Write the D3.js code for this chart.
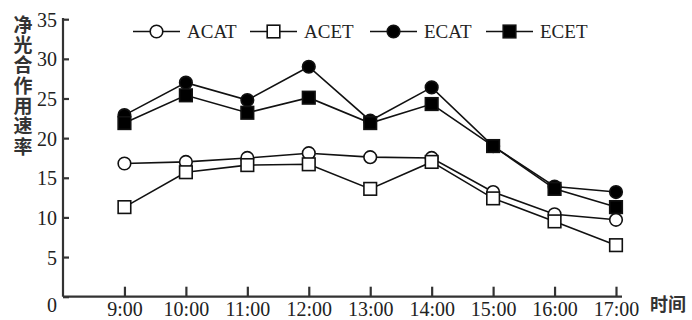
<!DOCTYPE html>
<html>
<head>
	<meta charset="utf-8">
	<title>净光合作用速率</title>
	<script src="https://cdnjs.cloudflare.com/ajax/libs/d3/7.8.5/d3.min.js"></script>
	<style type="text/css">
		body { margin: 0; background: #fff; }
		.axis path, .axis line { stroke: #333; stroke-width: 2.2px; }
		.axis text { font-family: "Liberation Serif", serif; font-size: 20px; fill: #222; }
		.series { fill: none; stroke: #111; stroke-width: 1.6px; }
		.legend text { font-family: "Liberation Serif", serif; font-size: 19px; fill: #222; }
		.cjk { font-family: "Noto Sans CJK SC", sans-serif; font-weight: bold; fill: #333; }
	</style>
</head>
<body>
	<script type="text/javascript">
		// values
		var hours = [9, 10, 11, 12, 13, 14, 15, 16, 17];
		var hourLabels = ["9:00", "10:00", "11:00", "12:00", "13:00", "14:00", "15:00", "16:00", "17:00"];
		var yTicks = [0, 5, 10, 15, 20, 25, 30, 35];
		var acat = [16.8, 17.0, 17.5, 18.1, 17.6, 17.5, 13.2, 10.4, 9.7];
		var acet = [11.3, 15.7, 16.6, 16.7, 13.6, 17.0, 12.4, 9.5, 6.5];
		var ecat = [22.9, 27.0, 24.8, 29.0, 22.2, 26.4, 19.0, 13.9, 13.2];
		var ecet = [21.9, 25.4, 23.2, 25.1, 21.9, 24.3, 19.0, 13.6, 11.3];
		var seriesNames = ["ACAT", "ACET", "ECAT", "ECET"];

		var series = [
			{ name: "ACAT", values: acat, shape: "circle", fill: "#fff" },
			{ name: "ACET", values: acet, shape: "square", fill: "#fff" },
			{ name: "ECAT", values: ecat, shape: "circle", fill: "#000" },
			{ name: "ECET", values: ecet, shape: "square", fill: "#000" }
		];

		var width = 692, height = 320;
		var x0 = 63, y0 = 296.7;

		var svg = d3.select("body").append("svg")
			.attr("width", width)
			.attr("height", height);

		// 8:00 sits on the y axis, 17:00 just before the axis end
		var x = d3.scaleLinear().domain([8, 17]).range([x0, 616]);
		var y = d3.scaleLinear().domain([0, 35]).range([y0, 19.2]);

		var xAxis = svg.append("g")
			.attr("class", "x axis")
			.attr("transform", "translate(0," + y0 + ")")
			.call(d3.axisBottom(x)
				.tickValues(hours)
				.tickSize(-10)
				.tickSizeOuter(0)
				.tickPadding(0)
				.tickFormat(function(d, i) { return hourLabels[i]; }));
		xAxis.select(".domain").attr("d", "M" + x0 + ",0H622");
		xAxis.selectAll("text")
			.attr("y", 0)
			.attr("dy", "19.5px");

		var yAxis = svg.append("g")
			.attr("class", "y axis")
			.attr("transform", "translate(" + x0 + ",0)")
			.call(d3.axisLeft(y)
				.tickValues(yTicks)
				.tickSize(-6)
				.tickSizeOuter(0)
				.tickPadding(6));
		yAxis.select(".domain").attr("d", "M0," + y0 + "V18");
		yAxis.selectAll(".tick text")
			.attr("dy", function(d) { return d === 0 ? "0.75em" : "0.35em"; });

		var line = d3.line()
			.x(function(d, i) { return x(hours[i]); })
			.y(function(d) { return y(d); });

		function marker(g, shape, fill, cx, cy) {
			if (shape === "circle") {
				g.append("circle")
					.attr("cx", cx).attr("cy", cy).attr("r", 6.3)
					.attr("fill", fill).attr("stroke", "#111").attr("stroke-width", 1.6);
			} else {
				g.append("rect")
					.attr("x", cx - 6.3).attr("y", cy - 6.3)
					.attr("width", 12.6).attr("height", 12.6)
					.attr("fill", fill).attr("stroke", "#111").attr("stroke-width", 1.6);
			}
		}

		series.forEach(function(s) {
			svg.append("path")
				.attr("class", "series")
				.attr("d", line(s.values));
		});

		series.forEach(function(s) {
			var g = svg.append("g");
			s.values.forEach(function(v, i) {
				marker(g, s.shape, s.fill, x(hours[i]), y(v));
			});
		});

		// legend
		var legendX = [133, 250, 370, 486];
		var legend = svg.append("g").attr("class", "legend");
		series.forEach(function(s, i) {
			var g = legend.append("g").attr("transform", "translate(" + legendX[i] + ",31.5)");
			g.append("line")
				.attr("x1", 0).attr("x2", 47)
				.attr("stroke", "#111").attr("stroke-width", 1.6);
			marker(g, s.shape, s.fill, 23.5, 0);
			g.append("text")
				.attr("x", 54)
				.attr("dy", "0.35em")
				.text(seriesNames[i]);
		});

		// vertical y label, one text element set top to bottom
		svg.append("text")
			.attr("class", "cjk")
			.attr("x", 23)
			.attr("y", 15)
			.attr("font-size", 19)
			.style("writing-mode", "vertical-rl")
			.style("text-orientation", "upright")
			.style("letter-spacing", "1.3px")
			.text("净光合作用速率");

		svg.append("text")
			.attr("class", "cjk")
			.attr("x", 650)
			.attr("y", 311)
			.attr("font-size", 18)
			.text("时间");
	</script>
</body>
</html>
